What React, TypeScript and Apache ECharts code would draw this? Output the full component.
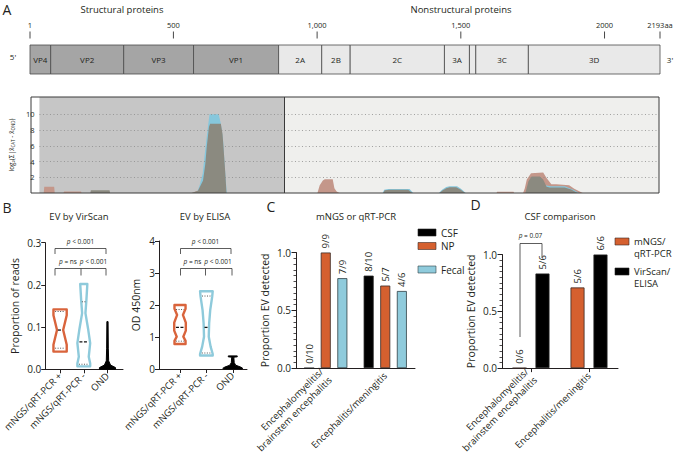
import React, { useEffect, useRef } from 'react';
import * as echarts from 'echarts';

const FONT = "'Open Sans', 'Noto Sans', sans-serif";
const TXT = '#231f20';
const ORANGE = '#d9643c';
const BLUE = '#8ecadb';
const BAR_ORANGE = '#d5602f';
const BAR_BLUE = '#8fcbdc';

// ---------- Panel A: genome map ----------
const genomeNames = ['VP4', 'VP2', 'VP3', 'VP1', '2A', '2B', '2C', '3A', '', '3C', '3D'];
const genomeStarts = [1, 73, 327, 570, 866, 1016, 1115, 1443, 1530, 1552, 1735];
const genomeEnds = [73, 327, 570, 866, 1016, 1115, 1443, 1530, 1552, 1735, 2193];
const genomeStructural = [true, true, true, true, false, false, false, false, false, false, false];
const genomeTickPos = [1, 500, 1000, 1500, 2000, 2193];
const genomeTickLabels = ['1', '500', '1,000', '1,500', '2000', '2193aa'];
const structuralEnd = 866;
const profileGridLines = [2, 4, 6, 8, 10];

// ---------- Panel A: enrichment profile (aa position, value) ----------
const profileBrown = [
  [0, 0], [15, 0], [17, 0.8], [52, 0.8], [54, 0], [85, 0], [87, 0.2], [147, 0.2], [149, 0],
  [540, 0], [560, 0.3], [580, 1.4], [592, 5], [600, 8], [605, 8.6], [640, 8.6], [650, 6], [660, 0],
  [984, 0], [992, 1.0], [1003, 1.6], [1010, 1.75], [1038, 1.75], [1044, 0.6], [1052, 0.2], [1062, 0],
  [1618, 0], [1620, 0.15], [1678, 0.15], [1680, 0],
  [1712, 0], [1718, 0.6], [1725, 1.7], [1740, 2.5], [1783, 2.6], [1795, 1.9], [1812, 1.1], [1830, 1.1],
  [1875, 1.0], [1893, 0.55], [1923, 0], [2193, 0],
];
const profileBlue = [
  [0, 0], [555, 0], [560, 0.3], [567, 1.0], [578, 2.5], [584, 4.6], [590, 6.5], [597, 8.6], [602, 10],
  [634, 10], [637, 9.6], [642, 8.8], [650, 6.7], [656, 3.3], [663, 0],
  [1215, 0], [1220, 0.4], [1235, 0.5], [1310, 0.5], [1323, 0],
  [1414, 0], [1425, 0.4], [1440, 0.75], [1452, 0.85], [1478, 0.85], [1492, 0.55], [1509, 0],
  [1722, 0], [1735, 1.3], [1745, 1.8], [1770, 1.9], [1790, 1.0], [1810, 0.85], [1860, 0.85], [1890, 0.4],
  [1910, 0], [2193, 0],
];
const profileGrey = [
  [0, 0], [180, 0], [182, 0.35], [248, 0.35], [250, 0],
  [538, 0], [561, 0.3], [579, 1.6], [587, 3.7], [592, 5.8], [600, 8.4], [604, 8.8], [642, 8.8], [648, 7.5],
  [654, 4.5], [658, 2.4], [662, 0],
  [1217, 0], [1222, 0.35], [1240, 0.4], [1305, 0.4], [1320, 0],
  [1416, 0], [1425, 0.3], [1440, 0.6], [1452, 0.72], [1475, 0.72], [1490, 0.45], [1507, 0],
  [1720, 0], [1731, 1.5], [1742, 2.1], [1771, 2.1], [1783, 1.7], [1795, 0.8], [1806, 0.7], [1859, 0.7],
  [1882, 0.45], [1905, 0], [2193, 0],
];

// ---------- Panel B ----------
const bCategories = ['mNGS/qRT-PCR +', 'mNGS/qRT-PCR -', 'OND'];
const bPositions = [1, 2, 3];
// [value, half-width density in axis units]
const virscanShapes = [
  [[0.142, 0.28], [0.128, 0.28], [0.093, 0.13], [0.058, 0.28], [0.042, 0.28]],
  [[0.202, 0.15], [0.164, 0.11], [0.133, 0.07], [0.093, 0.19], [0.062, 0.27], [0.03, 0.21], [0.014, 0.27], [0.007, 0.27]],
  [[0.113, 0.025], [0.05, 0.035], [0.02, 0.05], [0.01, 0.13], [0.004, 0.34], [0, 0.34]],
];
const virscanMedians = [0.093, 0.065, null];
const virscanQuartiles = [[0.05, 0.137], [0.012, 0.16], []];
const elisaShapes = [
  [[2.0, 0.21], [1.88, 0.21], [1.69, 0.11], [1.45, 0.22], [1.2, 0.22], [1.01, 0.125], [0.88, 0.21], [0.78, 0.21]],
  [[2.43, 0.24], [2.26, 0.22], [1.84, 0.145], [1.43, 0.105], [1.01, 0.09], [0.7, 0.16], [0.47, 0.24], [0.42, 0.24]],
  [[0.41, 0.17], [0.38, 0.17], [0.37, 0.04], [0.2, 0.055], [0.12, 0.11], [0.06, 0.3], [0.02, 0.38], [0, 0.34]],
];
const elisaMedians = [1.3, 1.3, null];
const elisaQuartiles = [[0.87, 1.86], [0.5, 2.28], []];

// ---------- Panel C ----------
const cCategories = ['Encephalomyelitis/\nbrainstem encephalitis', 'Encephalitis/meningitis'];
const cCSF = [0, 0.8];
const cNP = [1.0, 0.714];
const cFecal = [0.778, 0.667];
const cCSFLabels = ['0/10', '8/10'];
const cNPLabels = ['9/9', '5/7'];
const cFecalLabels = ['7/9', '4/6'];

// ---------- Panel D ----------
const dCategories = ['Encephalomyelitis/\nbrainstem encephalitis', 'Encephalitis/meningitis'];
const dMngs = [0, 0.71];
const dVirscan = [0.833, 1.0];
const dMngsLabels = ['0/6', '5/6'];
const dVirscanLabels = ['5/6', '6/6'];

function txt(text: string, x: number, y: number, size: number, extra: any = {}) {
  return {
    type: 'text',
    z: 50,
    style: {
      text, x, y, fontSize: size, fontFamily: FONT, fill: TXT,
      textAlign: extra.align || 'center', align: extra.align || 'center',
      textVerticalAlign: 'middle', verticalAlign: 'middle',
      ...extra.style,
    },
  };
}
function pline(points: number[][]) {
  return { type: 'polyline', z: 50, shape: { points }, style: { stroke: '#333', lineWidth: 0.8, fill: null } };
}
function ptext(rest: string, x: number, y: number) {
  return {
    type: 'text', z: 50,
    style: {
      text: '{i|p}{n|' + rest + '}', x, y, fontFamily: FONT, fill: TXT,
      textAlign: 'center', align: 'center', textVerticalAlign: 'middle', verticalAlign: 'middle',
      rich: { i: { fontStyle: 'italic', fontSize: 6.5, fontFamily: FONT, fill: TXT }, n: { fontSize: 6.5, fontFamily: FONT, fill: TXT } },
    },
  };
}

function hwAt(shape: number[][], v: number) {
  for (let k = 0; k < shape.length - 1; k++) {
    const [v1, w1] = shape[k];
    const [v2, w2] = shape[k + 1];
    if (v <= v1 && v >= v2) {
      const t = v1 === v2 ? 0 : (v - v1) / (v2 - v1);
      return w1 + t * (w2 - w1);
    }
  }
  return shape[shape.length - 1][1];
}

function violinRenderer(shapes: number[][][], medians: (number | null)[], quarts: number[][], strokes: string[], fills: string[], widths: number[]) {
  return (params: any, api: any) => {
    const i = params.dataIndex;
    const x = api.value(0);
    const sh = shapes[i];
    const pts: number[][] = [];
    sh.forEach(([v, w]) => pts.push(api.coord([x - w, v])));
    for (let k = sh.length - 1; k >= 0; k--) pts.push(api.coord([x + sh[k][1], sh[k][0]]));
    const children: any[] = [
      { type: 'polygon', shape: { points: pts }, style: { fill: fills[i], stroke: strokes[i], lineWidth: widths[i], lineJoin: 'round' } },
    ];
    const m = medians[i];
    if (m != null) {
      const w = hwAt(sh, m) * 0.7;
      const a = api.coord([x - w, m]);
      const b = api.coord([x + w, m]);
      children.push({ type: 'line', shape: { x1: a[0], y1: a[1], x2: b[0], y2: b[1] }, style: { stroke: '#111', lineWidth: 1.3, lineDash: [3, 1.5] } });
    }
    quarts[i].forEach((q) => {
      const w = hwAt(sh, q) * 0.75;
      const a = api.coord([x - w, q]);
      const b = api.coord([x + w, q]);
      children.push({ type: 'line', shape: { x1: a[0], y1: a[1], x2: b[0], y2: b[1] }, style: { stroke: '#555', lineWidth: 1, lineDash: [1, 1.5] } });
    });
    return { type: 'group', children };
  };
}

const axisLineStyle = { color: '#231f20', width: 1 };
const tickFont = { fontSize: 10, fontFamily: FONT, color: TXT };

export default function App() {
  const ref = useRef<HTMLDivElement>(null);
  useEffect(() => {
    if (!ref.current) return;
    const chart = echarts.init(ref.current, null, { renderer: 'svg' });

    const barLabel = (labels: string[]) => ({
      show: true, position: 'top', rotate: 90, align: 'left', verticalAlign: 'middle', distance: 4,
      fontSize: 9.5, fontFamily: FONT, color: TXT,
      formatter: (p: any) => labels[p.dataIndex],
    });

    const option: any = {
      animation: false,
      textStyle: { fontFamily: FONT },
      grid: [
        { left: 30, top: 45, width: 630, height: 29, show: false },
        { left: 31, top: 97, width: 628, height: 96, show: true, backgroundColor: '#efefed', borderWidth: 0 },
        { left: 39, top: 242.7, width: 84, height: 126.6, show: false },
        { left: 159, top: 241, width: 88, height: 128, show: false },
        { left: 296, top: 252.5, width: 119, height: 116.8, show: false },
        { left: 502, top: 254.5, width: 116, height: 114.8, show: false },
      ],
      xAxis: [
        { gridIndex: 0, type: 'value', min: 1, max: 2193, show: false },
        { gridIndex: 1, type: 'value', min: 0, max: 2193, show: false },
        {
          gridIndex: 2, type: 'value', min: 0.373, max: 3.655, splitLine: { show: false },
          axisLine: { show: true, onZero: false, lineStyle: axisLineStyle },
          axisTick: { show: true, customValues: bPositions, length: 4, lineStyle: axisLineStyle },
          axisLabel: { customValues: bPositions, formatter: (v: number) => bCategories[Math.round(v) - 1], rotate: 45, margin: 5, fontSize: 9.5, fontFamily: FONT, color: TXT },
        },
        {
          gridIndex: 3, type: 'value', min: 0.203, max: 3.54, splitLine: { show: false },
          axisLine: { show: true, onZero: false, lineStyle: axisLineStyle },
          axisTick: { show: true, customValues: bPositions, length: 4, lineStyle: axisLineStyle },
          axisLabel: { customValues: bPositions, formatter: (v: number) => bCategories[Math.round(v) - 1], rotate: 45, margin: 5, fontSize: 9.5, fontFamily: FONT, color: TXT },
        },
        {
          gridIndex: 4, type: 'category', data: cCategories,
          axisLine: { show: true, lineStyle: axisLineStyle }, axisTick: { show: false },
          axisLabel: { rotate: 45, margin: 6, fontSize: 9.5, fontFamily: FONT, color: TXT, lineHeight: 12 },
        },
        {
          gridIndex: 5, type: 'category', data: dCategories,
          axisLine: { show: true, lineStyle: axisLineStyle }, axisTick: { show: true, alignWithLabel: true, length: 4, lineStyle: axisLineStyle },
          axisLabel: { rotate: 45, margin: 6, fontSize: 9.5, fontFamily: FONT, color: TXT, lineHeight: 12 },
        },
      ],
      yAxis: [
        { gridIndex: 0, type: 'value', min: 0, max: 1, show: false },
        {
          gridIndex: 1, type: 'value', min: 0, max: 12.2, interval: 2,
          axisLine: { show: false }, axisTick: { show: false }, splitLine: { show: false },
          axisLabel: { fontSize: 7.5, fontFamily: FONT, color: TXT, margin: 5, formatter: (v: number) => (v > 0 && v <= 10 ? String(v) : '') },
          name: '{n|log₂(Σ|x̄}{s|CAT}{n| - x̄}{s|OND}{n|)}', nameLocation: 'middle', nameGap: 19,
          nameTextStyle: {
            fontSize: 6.5, fontFamily: FONT, color: TXT,
            rich: { n: { fontSize: 6.5, fontFamily: FONT, color: TXT }, s: { fontSize: 4.5, fontFamily: FONT, color: TXT, verticalAlign: 'bottom' } },
          },
        },
        {
          gridIndex: 2, type: 'value', min: 0, max: 0.3, interval: 0.1, splitLine: { show: false },
          axisLine: { show: true, lineStyle: axisLineStyle }, axisTick: { show: true, length: 4, lineStyle: axisLineStyle },
          axisLabel: { ...tickFont, margin: 4, formatter: (v: number) => v.toFixed(1) },
          name: 'Proportion of reads', nameLocation: 'middle', nameGap: 25, nameTextStyle: { fontSize: 10.5, fontFamily: FONT, color: TXT },
        },
        {
          gridIndex: 3, type: 'value', min: 0, max: 4, interval: 1, splitLine: { show: false },
          axisLine: { show: true, lineStyle: axisLineStyle }, axisTick: { show: true, length: 4, lineStyle: axisLineStyle },
          axisLabel: { ...tickFont, margin: 4 },
          name: 'OD 450nm', nameLocation: 'middle', nameGap: 18, nameTextStyle: { fontSize: 10.5, fontFamily: FONT, color: TXT },
        },
        {
          gridIndex: 4, type: 'value', min: 0, max: 1, interval: 0.5, splitLine: { show: false },
          axisLine: { show: true, lineStyle: axisLineStyle }, axisTick: { show: true, length: 4.5, lineStyle: axisLineStyle },
          minorTick: { show: true, splitNumber: 10, length: 2.5, lineStyle: { color: '#231f20', width: 0.8 } },
          axisLabel: { ...tickFont, margin: 5, formatter: (v: number) => v.toFixed(1) },
          name: 'Proportion EV detected', nameLocation: 'middle', nameGap: 26, nameTextStyle: { fontSize: 10.5, fontFamily: FONT, color: TXT },
        },
        {
          gridIndex: 5, type: 'value', min: 0, max: 1, interval: 0.5, splitLine: { show: false },
          axisLine: { show: true, lineStyle: axisLineStyle }, axisTick: { show: true, length: 4.5, lineStyle: axisLineStyle },
          minorTick: { show: true, splitNumber: 10, length: 2.5, lineStyle: { color: '#231f20', width: 0.8 } },
          axisLabel: { ...tickFont, margin: 5, formatter: (v: number) => v.toFixed(1) },
          name: 'Proportion EV detected', nameLocation: 'middle', nameGap: 26, nameTextStyle: { fontSize: 10.5, fontFamily: FONT, color: TXT },
        },
      ],
      series: [
        // genome boxes
        {
          type: 'custom', xAxisIndex: 0, yAxisIndex: 0, clip: false,
          data: genomeStarts.map((s, i) => [s, genomeEnds[i], i]),
          encode: { x: [0, 1] },
          renderItem: (params: any, api: any) => {
            const i = params.dataIndex;
            const s = api.coord([api.value(0), 1]);
            const e = api.coord([api.value(1), 0]);
            return {
              type: 'group',
              children: [
                { type: 'rect', shape: { x: s[0], y: s[1], width: e[0] - s[0], height: e[1] - s[1] }, style: { fill: genomeStructural[i] ? '#a5a5a5' : '#e9e9e9', stroke: '#4a4a4a', lineWidth: 0.8 } },
                { type: 'text', style: { text: genomeNames[i], x: (s[0] + e[0]) / 2, y: (s[1] + e[1]) / 2, textAlign: 'center', align: 'center', textVerticalAlign: 'middle', verticalAlign: 'middle', fontSize: 8, fontFamily: FONT, fill: TXT } },
              ],
            };
          },
        },
        // genome ruler
        {
          type: 'custom', xAxisIndex: 0, yAxisIndex: 0, clip: false,
          data: genomeTickPos.map((p, i) => [p, i]),
          encode: { x: 0 },
          renderItem: (params: any, api: any) => {
            const i = params.dataIndex;
            const p = api.coord([api.value(0), 1]);
            return {
              type: 'group',
              children: [
                { type: 'line', shape: { x1: p[0], y1: p[1] - 13.5, x2: p[0], y2: p[1] - 6.5 }, style: { stroke: '#333', lineWidth: 0.9 } },
                { type: 'text', style: { text: genomeTickLabels[i], x: p[0], y: p[1] - 20, textAlign: 'center', align: 'center', textVerticalAlign: 'middle', verticalAlign: 'middle', fontSize: 7.5, fontFamily: FONT, fill: TXT } },
              ],
            };
          },
        },
        // profile backdrop: structural shading + dotted gridlines
        {
          type: 'line', xAxisIndex: 1, yAxisIndex: 1, data: [[0, 0]], symbol: 'none', lineStyle: { width: 0 }, z: 1, silent: true,
          markArea: { silent: true, itemStyle: { color: '#c6c6c6' }, data: [[{ xAxis: 0 }, { xAxis: structuralEnd }]] },
          markLine: {
            silent: true, symbol: ['none', 'none'], label: { show: false },
            lineStyle: { type: [1, 2.5], color: '#8a8a8a', width: 0.8 },
            data: [
              ...profileGridLines.map((v) => ({ yAxis: v })),
              { xAxis: structuralEnd, lineStyle: { type: 'solid', color: '#3a3a3a', width: 1 } },
            ],
          },
        },
        { type: 'line', name: 'brown', xAxisIndex: 1, yAxisIndex: 1, data: profileBrown, symbol: 'none', lineStyle: { width: 0 }, areaStyle: { color: '#c4978a', opacity: 1 }, z: 3, silent: true },
        { type: 'line', name: 'blue', xAxisIndex: 1, yAxisIndex: 1, data: profileBlue, symbol: 'none', lineStyle: { width: 0 }, areaStyle: { color: '#86c7dc', opacity: 1 }, z: 4, silent: true },
        { type: 'line', name: 'grey', xAxisIndex: 1, yAxisIndex: 1, data: profileGrey, symbol: 'none', lineStyle: { width: 0 }, areaStyle: { color: '#8b8a80', opacity: 1 }, z: 5, silent: true },
        // violins
        {
          type: 'custom', xAxisIndex: 2, yAxisIndex: 2, clip: false,
          data: bPositions.map((p) => [p, 0]),
          renderItem: violinRenderer(virscanShapes, virscanMedians, virscanQuartiles, [ORANGE, BLUE, '#000'], ['#fff', '#fff', '#000'], [2.4, 2.4, 1]),
        },
        {
          type: 'custom', xAxisIndex: 3, yAxisIndex: 3, clip: false,
          data: bPositions.map((p) => [p, 0]),
          renderItem: violinRenderer(elisaShapes, elisaMedians, elisaQuartiles, [ORANGE, BLUE, '#000'], ['#fff', '#fff', '#000'], [2.4, 2.4, 1]),
        },
        // Panel C bars
        { type: 'bar', name: 'CSF', xAxisIndex: 4, yAxisIndex: 4, data: cCSF, barWidth: 10, barGap: '66%', itemStyle: { color: '#000', borderColor: '#222', borderWidth: 0.8 }, label: barLabel(cCSFLabels) },
        { type: 'bar', name: 'NP', xAxisIndex: 4, yAxisIndex: 4, data: cNP, barWidth: 10, barGap: '66%', itemStyle: { color: BAR_ORANGE, borderColor: '#3a2a25', borderWidth: 0.8 }, label: barLabel(cNPLabels) },
        { type: 'bar', name: 'Fecal', xAxisIndex: 4, yAxisIndex: 4, data: cFecal, barWidth: 10, barGap: '66%', itemStyle: { color: BAR_BLUE, borderColor: '#2f3f44', borderWidth: 0.8 }, label: barLabel(cFecalLabels) },
        // Panel D bars
        { type: 'bar', name: 'mNGS/qRT-PCR', xAxisIndex: 5, yAxisIndex: 5, data: dMngs, barWidth: 14, barGap: '64%', itemStyle: { color: BAR_ORANGE, borderColor: '#3a2a25', borderWidth: 0.8 }, label: barLabel(dMngsLabels) },
        { type: 'bar', name: 'VirScan/ELISA', xAxisIndex: 5, yAxisIndex: 5, data: dVirscan, barWidth: 14, barGap: '64%', itemStyle: { color: '#000', borderColor: '#222', borderWidth: 0.8 }, label: barLabel(dVirscanLabels) },
      ],
      graphic: [
        // panel letters and headers
        txt('A', 7, 9, 14),
        txt('Structural proteins', 122, 9, 9.5),
        txt('Nonstructural proteins', 461, 9, 9.5),
        txt("5'", 13, 56, 8),
        txt("3'", 670, 59, 8),
        { type: 'rect', z: 40, shape: { x: 31, y: 97, width: 628, height: 96 }, style: { fill: null, stroke: '#3a3a3a', lineWidth: 1 } },
        txt('B', 7, 207, 14),
        txt('C', 271, 206, 14),
        txt('D', 475.5, 204, 14),
        txt('EV by VirScan', 79, 216, 9.5),
        txt('EV by ELISA', 205, 216, 9.5),
        txt('mNGS or qRT-PCR', 356, 216, 9.5),
        txt('CSF comparison', 560, 216, 9.5),
        // VirScan brackets
        pline([[55, 254], [55, 248.5], [106, 248.5], [106, 254]]),
        ptext(' < 0.001', 80.5, 241.5),
        pline([[55, 275.5], [55, 268.5], [106, 268.5], [106, 275.5]]),
        pline([[81, 268.5], [81, 275.5]]),
        ptext(' = ns', 68, 261.5),
        ptext(' < 0.001', 93.5, 261.5),
        // ELISA brackets
        pline([[180.5, 254], [180.5, 248.5], [231, 248.5], [231, 254]]),
        ptext(' < 0.001', 205.5, 241.5),
        pline([[180.5, 275.5], [180.5, 268.5], [232, 268.5], [232, 275.5]]),
        pline([[205.5, 268.5], [205.5, 275.5]]),
        ptext(' = ns', 192.5, 261.5),
        ptext(' < 0.001', 218, 261.5),
        // D bracket
        pline([[520, 337], [520, 243.5], [542, 243.5], [542, 258]]),
        ptext(' = 0.07', 530.5, 235.5),
        // Legend C
        { type: 'rect', z: 50, shape: { x: 418, y: 229, width: 18, height: 7 }, style: { fill: '#000', stroke: '#222', lineWidth: 0.6 } },
        { type: 'rect', z: 50, shape: { x: 418, y: 242.5, width: 18, height: 7 }, style: { fill: BAR_ORANGE, stroke: '#3a2a25', lineWidth: 0.6 } },
        { type: 'rect', z: 50, shape: { x: 418, y: 266, width: 18, height: 7 }, style: { fill: BAR_BLUE, stroke: '#2f3f44', lineWidth: 0.6 } },
        txt('CSF', 441, 232.5, 10, { align: 'left' }),
        txt('NP', 441, 246, 10, { align: 'left' }),
        txt('Fecal', 441, 269.5, 10, { align: 'left' }),
        // Legend D
        { type: 'rect', z: 50, shape: { x: 615, y: 238, width: 14, height: 7 }, style: { fill: BAR_ORANGE, stroke: '#3a2a25', lineWidth: 0.6 } },
        { type: 'rect', z: 50, shape: { x: 615, y: 268, width: 14, height: 7 }, style: { fill: '#000', stroke: '#222', lineWidth: 0.6 } },
        txt('mNGS/\nqRT-PCR', 634, 247.5, 9.5, { align: 'left', style: { lineHeight: 12 } }),
        txt('VirScan/\nELISA', 634, 277.5, 9.5, { align: 'left', style: { lineHeight: 12 } }),
      ],
    };
    chart.setOption(option);
    return () => chart.dispose();
  }, []);
  return <div ref={ref} style={{ position: 'fixed', left: 0, top: 0, width: 675, height: 456, background: '#fff' }} />;
}
